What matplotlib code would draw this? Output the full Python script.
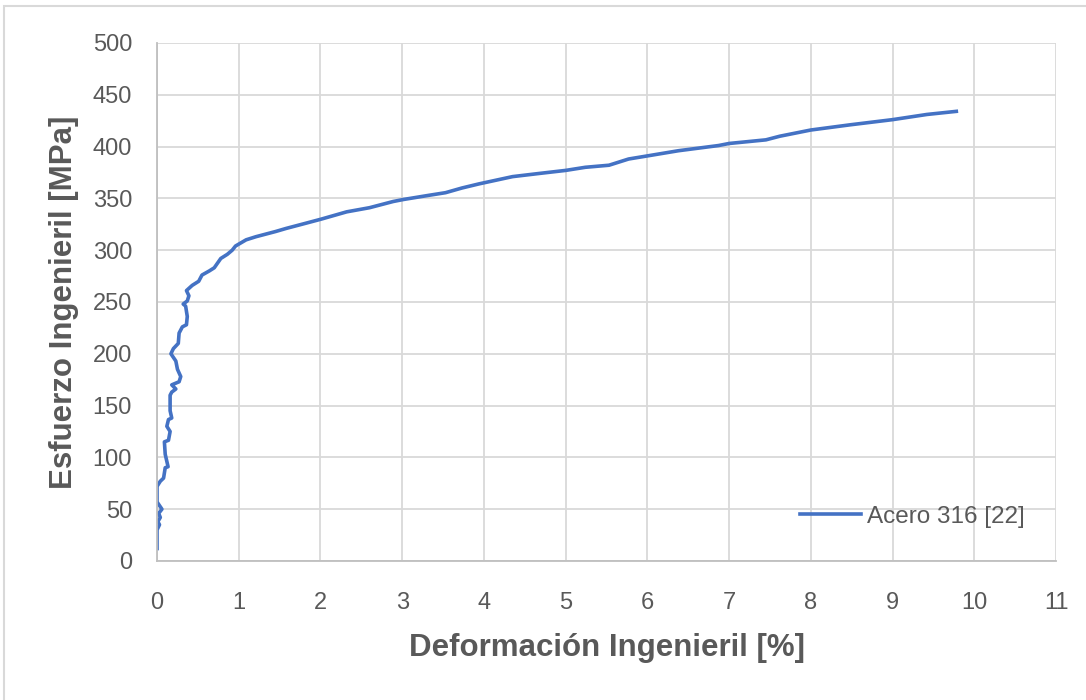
import matplotlib
matplotlib.use("Agg")
import matplotlib.pyplot as plt
from matplotlib.patches import Rectangle

deformacion = [0.0, 0.0, 0.03, 0.01, 0.04, 0.02, 0.06, 0.0, 0.0, 0.04, 0.08, 0.10, 0.135,
               0.10, 0.09, 0.14, 0.16, 0.12, 0.14, 0.18, 0.16, 0.16, 0.18, 0.23, 0.18,
               0.27, 0.29, 0.25, 0.23, 0.17, 0.20, 0.26, 0.27, 0.31, 0.36, 0.37, 0.35,
               0.32, 0.37, 0.39, 0.36, 0.43, 0.51, 0.55, 0.64, 0.70, 0.78, 0.86, 0.92,
               0.96, 1.09, 1.21, 1.45, 1.58, 1.82, 2.01, 2.32, 2.60, 2.89, 3.02, 3.33,
               3.53, 3.73, 3.94, 4.35, 4.67, 5.00, 5.24, 5.53, 5.77, 6.00, 6.38, 6.87,
               7.00, 7.45, 7.62, 8.00, 8.48, 9.00, 9.42, 9.78]
esfuerzo = [12, 30, 35, 38, 42, 46, 50, 57, 72, 77, 80, 90, 91,
            103, 115, 116.5, 125, 130, 136.5, 138, 145, 160, 163, 166, 170,
            173, 178, 185, 193, 200, 205, 210, 220, 226, 228, 236, 246,
            248, 251, 256, 261, 266, 270, 276, 280, 283, 292, 296, 300,
            304, 310, 313, 318, 321, 326, 330, 337, 341, 347, 349, 353,
            355.5, 360, 364, 371, 374, 377, 380, 382, 388, 391, 396, 401,
            403, 406.5, 410, 416, 421, 426, 431, 434]

x_ticks = list(range(0, 12))
y_ticks = list(range(0, 501, 50))

plt.rcParams['font.family'] = ['Liberation Sans', 'DejaVu Sans']
gris = '#595959'

fig = plt.figure(figsize=(10.86, 7.0), dpi=100)
ax = fig.add_axes([0.1446, 0.1986, 0.8278, 0.74])

# borde del area del grafico
fig.patches.append(Rectangle((4 / 1086, -0.05), 1.2, 1 - 6 / 700 + 0.05,
                             transform=fig.transFigure, fill=False,
                             edgecolor='#d9d9d9', linewidth=1.5))

ax.plot(deformacion, esfuerzo, color='#4472C4', linewidth=2.6, label='Acero 316 [22]')

ax.set_xlim(0, 11)
ax.set_ylim(0, 500)
ax.set_xticks(x_ticks)
ax.set_yticks(y_ticks)
ax.grid(True, color='#d9d9d9', linewidth=1.3)
ax.set_axisbelow(True)
for lado in ['top', 'right']:
    ax.spines[lado].set_visible(False)
for lado in ['left', 'bottom']:
    ax.spines[lado].set_color('#bfbfbf')
    ax.spines[lado].set_linewidth(1.3)
ax.tick_params(length=0, labelsize=17, labelcolor=gris)
ax.tick_params(axis='x', pad=22)
ax.tick_params(axis='y', pad=18)

ax.set_xlabel('Deformación Ingenieril [%]', fontsize=22.5, fontweight='bold', color=gris, labelpad=14)
ax.set_ylabel('Esfuerzo Ingenieril [MPa]', fontsize=22.5, fontweight='bold', color=gris, labelpad=10)

leg = ax.legend(loc='center left', bbox_to_anchor=(0.715, 0.085), frameon=False,
                fontsize=17.5, handlelength=2.5, handletextpad=0.25,
                borderpad=0, borderaxespad=0)
for t in leg.get_texts():
    t.set_color(gris)

fig.savefig('out.png', dpi=100)
